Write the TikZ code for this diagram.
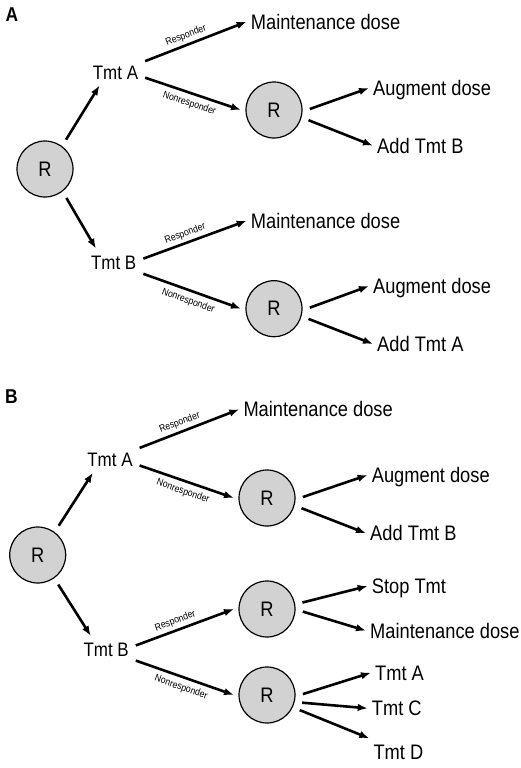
\documentclass[tikz,border=0pt]{standalone}
\usepackage{fontspec}
\setmainfont{Liberation Sans}[FakeStretch=0.87]
\usetikzlibrary{%
  arrows.meta%
}
\tikzset{>={Latex[length=10pt,width=7.5pt]},%
  rnode/.style={circle,draw,line width=1.2pt,fill=gray!35,minimum size=56pt,
    inner sep=0pt,outer sep=5pt,font=\fontsize{21}{24}\selectfont},%
  txt/.style={inner xsep=4pt,inner ysep=5.65pt,text height=15pt,text depth=0pt,
    font=\fontsize{21}{24}\selectfont},%
  tmt/.style={inner xsep=4pt,inner ysep=6.15pt,text height=14pt,text depth=0pt,
    font=\fontsize{19.5}{24}\selectfont},%
  lbl/.style={font=\fontsize{20}{24}\selectfont\bfseries},%
  marr/.style={->,line width=2.6pt,shorten <=3pt},%
  rsp/.style={pos=0.45,sloped,above=2pt,inner sep=1pt,font=\fontsize{10}{12}\selectfont},%
  nrsp/.style={pos=0.51,sloped,below=3.5pt,inner sep=1pt,font=\fontsize{10}{12}\selectfont}}

\begin{document}
\begin{tikzpicture}[x=1pt,y=-1pt]
  \useasboundingbox (0,0) rectangle (520,768);
  % A
  \node[lbl] (labA) at (12,15) {A};
  \node[rnode] (rA) at (45,169) {R};
  \node[tmt] (tmtA) at (115.5,72) {Tmt A};
  \node[tmt] (tmtB) at (113.7,262) {Tmt B};
  \node[rnode] (rA2) at (274,110) {R};
  \node[rnode] (rA3) at (274,308.7) {R};
  \node[txt,anchor=west] (mdA) at (246.7,21.7) {Maintenance dose};
  \node[txt,anchor=west] (augA) at (369,88) {Augment dose};
  \node[txt,anchor=west] (addB) at (373,145.7) {Add Tmt B};
  \node[txt,anchor=west] (mdA2) at (246.7,220.7) {Maintenance dose};
  \node[txt,anchor=west] (augA2) at (369,286) {Augment dose};
  \node[txt,anchor=west] (addA) at (373,344) {Add Tmt A};
  \draw[marr] (rA.54) -- (tmtA.220);
  \draw[marr] (rA.-53) -- (tmtB.143);
  \draw[marr] (tmtA.20) -- (mdA.west) node[rsp] {Responder};
  \draw[marr] (tmtA.-10) -- (rA2.west) node[nrsp] {Nonresponder};
  \draw[marr] (tmtB.5) -- (mdA2.west) node[rsp] {Responder};
  \draw[marr] (tmtB.-22) -- (rA3.west) node[nrsp] {Nonresponder};
  \draw[marr] (rA2.east) -- (augA.west);
  \draw[marr] (rA2.-16) -- (addB.west);
  \draw[marr] (rA3.east) -- (augA2.west);
  \draw[marr] (rA3.-16) -- (addA.west);
  % B
  \node[lbl] (labB) at (11.5,396.5) {B};
  \node[rnode] (rB) at (37.7,555) {R};
  \node[tmt] (tmtAb) at (110,459.3) {Tmt A};
  \node[tmt] (tmtBb) at (106.2,649.3) {Tmt B};
  \node[rnode] (rB2) at (267,498) {R};
  \node[rnode] (rB3) at (267,609) {R};
  \node[rnode] (rB4) at (267,695) {R};
  \node[txt,anchor=west] (mdB) at (239.3,409.3) {Maintenance dose};
  \node[txt,anchor=west] (augB) at (367.7,475) {Augment dose};
  \node[txt,anchor=west] (addBb) at (366,533.3) {Add Tmt B};
  \node[txt,anchor=west] (stop) at (367.7,586) {Stop Tmt};
  \node[txt,anchor=west] (mdB2) at (366,630.7) {Maintenance dose};
  \node[txt,anchor=west] (tA) at (371,672.7) {Tmt A};
  \node[txt,anchor=west] (tC) at (367.7,708.3) {Tmt C};
  \node[txt,anchor=west] (tD) at (369.3,751.7) {Tmt D};
  \draw[marr] (rB.54) -- (tmtAb.218);
  \draw[marr] (rB.-55) -- (tmtBb.139);
  \draw[marr] (tmtAb.21) -- (mdB.west) node[rsp] {Responder};
  \draw[marr] (tmtAb.-11) -- (rB2.west) node[nrsp] {Nonresponder};
  \draw[marr] (tmtBb.6) -- (rB3.west) node[rsp] {Responder};
  \draw[marr] (tmtBb.-21) -- (rB4.west) node[nrsp] {Nonresponder};
  \draw[marr] (rB2.east) -- (augB.west);
  \draw[marr] (rB2.-16) -- (addBb.west);
  \draw[marr] (rB3.10) -- (stop.west);
  \draw[marr] (rB3.-3) -- (mdB2.west);
  \draw[marr] (rB4.east) -- (tA.west);
  \draw[marr] (rB4.-13) -- (tC.west);
  \draw[marr] (rB4.-25) -- (tD.north west);
\end{tikzpicture}
\end{document}
